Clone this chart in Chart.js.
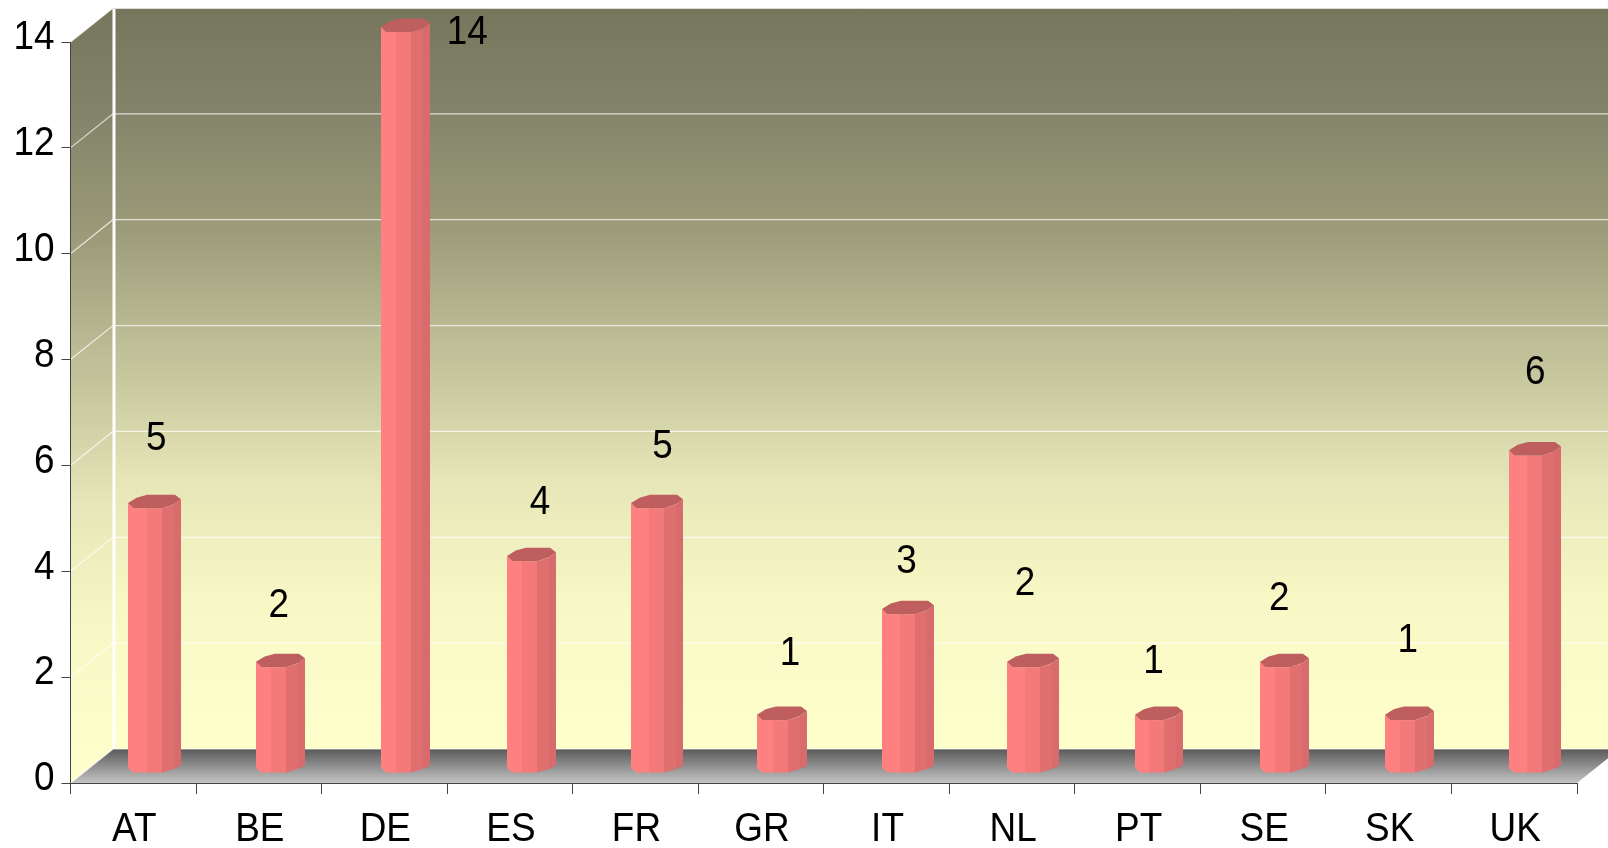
<!DOCTYPE html>
<html lang="en">
<head>
  <meta charset="UTF-8">
  <title>Count by country</title>
  <style>
    html, body { margin: 0; padding: 0; background: #fff; }
    canvas { display: block; }
  </style>
  <script src="https://cdn.jsdelivr.net/npm/chart.js"></script>
</head>
<body>
  <canvas id="chart" width="1608" height="848"></canvas>
  <script>
    const countries = ['AT', 'BE', 'DE', 'ES', 'FR', 'GR', 'IT', 'NL', 'PT', 'SE', 'SK', 'UK'];
    const counts = [5, 2, 14, 4, 5, 1, 3, 2, 1, 2, 1, 6];
    const yMax = 14;
    const yStep = 2;

    // hand placed value labels in the original, relative to the category centre / bar top
    const labelShiftX = [23, 20, 83, 30, 27, 29, 20, 13, 16, 16, 19, 21];
    const labelLift = [70, 61, -1, 59, 62, 66, 53, 83, 58, 68, 79, 83];
    // the source picture rounds its bars unevenly
    const barWidths = [53, 49, 49, 49, 52, 50, 52, 52, 48, 49, 49, 52];

    // depth of the fake 3d box and where a bar stands on the floor
    const depthX = 42.5;
    const depthY = 34;
    const barShiftX = 21.25;
    const barShiftY = -10;
    const fontFamily = '"Liberation Sans", Arial, sans-serif';
    const fontSize = 41;
    const textSqueeze = 0.9;

    const canvas = document.getElementById('chart');

    function poly(ctx, pts, fill) {
      ctx.beginPath();
      pts.forEach((p, i) => i ? ctx.lineTo(p[0], p[1]) : ctx.moveTo(p[0], p[1]));
      ctx.closePath();
      ctx.fillStyle = fill;
      ctx.fill();
    }

    class PrismBar extends Chart.BarElement {
      draw(ctx) {
        const { x, y, base } = this.getProps(['x', 'y', 'base']);
        const width = barWidths[Chart.getChart(canvas).getDatasetMeta(0).data.indexOf(this)];
        const l = Math.round(x - width / 2 + barShiftX);
        const t = y + barShiftY;
        const b = base + barShiftY;
        const r = l + width;
        const c3 = r - 7, c2 = c3 - 12, c1 = c2 - 15, a = l + 5.3;
        poly(ctx, [[l, t - 5.3], [a, t], [c1 + 0.5, t], [c1 + 0.5, b], [a, b], [l, b - 4.5]], '#ff8080');
        poly(ctx, [[c1, t], [c2 + 0.5, t], [c2 + 0.5, b], [c1, b]], '#f47a7a');
        poly(ctx, [[c2, t], [c3 + 0.5, t - 4], [c3 + 0.5, b - 3.7], [c2, b]], '#e07070');
        poly(ctx, [[c3, t - 4], [r, t - 9], [r, b - 6.7], [c3, b - 3.7]], '#d86b6b');
        poly(ctx, [[l, t - 5.3], [l + 8.7, t - 10.7], [l + 19, t - 13.5], [r - 6, t - 13.5],
          [r, t - 9], [c3, t - 4], [c2, t], [a, t]], '#be5e5e');
      }
    }
    PrismBar.id = 'prismBar';
    PrismBar.defaults = Chart.BarElement.defaults;

    class PrismController extends Chart.BarController {}
    PrismController.id = 'prismBar';
    PrismController.defaults = Object.assign({}, Chart.BarController.defaults, { dataElementType: 'prismBar' });
    PrismController.overrides = Chart.BarController.overrides;
    Chart.register(PrismBar, PrismController);

    function wallGradient(ctx, y0, y1) {
      const g = ctx.createLinearGradient(0, y0, 0, y1);
      g.addColorStop(0, '#76765c');
      g.addColorStop(0.135, '#83836a');
      g.addColorStop(0.3, '#9c9c7a');
      g.addColorStop(0.45, '#bdbd96');
      g.addColorStop(0.64, '#e6e6b8');
      g.addColorStop(0.8, '#f8f8c6');
      g.addColorStop(1, '#ffffcc');
      return g;
    }

    const box3d = {
      id: 'box3d',
      beforeDraw(chart) {
        const { ctx, chartArea: area, scales } = chart;
        const { left, right, top, bottom } = area;
        const wallX = left + depthX;
        const floorY = bottom - depthY;
        const wallTop = top - depthY;
        const W = chart.width;

        poly(ctx, [[wallX, wallTop], [W, wallTop], [W, floorY], [wallX, floorY]], wallGradient(ctx, wallTop, floorY));
        poly(ctx, [[left, top], [wallX, wallTop], [wallX, floorY], [left, bottom]], wallGradient(ctx, wallTop, bottom));

        const floor = ctx.createLinearGradient(0, floorY, 0, bottom);
        floor.addColorStop(0, '#5a5a5a');
        floor.addColorStop(1, '#c4c4c4');
        poly(ctx, [[left, bottom], [wallX, floorY], [right + depthX, floorY], [right, bottom]], floor);

        // grid lines run along the side wall and then the back wall
        ctx.save();
        ctx.lineWidth = 1.2;
        ctx.strokeStyle = 'rgba(255,255,255,0.72)';
        scales.y.ticks.forEach(tick => {
          const y = scales.y.getPixelForValue(tick.value);
          ctx.beginPath();
          ctx.moveTo(left, y);
          ctx.lineTo(wallX, y - depthY);
          ctx.lineTo(W, y - depthY);
          ctx.stroke();
        });
        ctx.strokeStyle = '#fff';
        ctx.lineWidth = 3;
        ctx.beginPath();
        ctx.moveTo(wallX + 1, wallTop);
        ctx.lineTo(wallX + 1, floorY);
        ctx.stroke();
        ctx.lineWidth = 1;
        ctx.strokeStyle = '#ddd';
        ctx.beginPath();
        ctx.moveTo(wallX, wallTop + 0.5);
        ctx.lineTo(W, wallTop + 0.5);
        ctx.stroke();
        ctx.restore();
      },
      afterDatasetsDraw(chart) {
        const { ctx, scales } = chart;
        ctx.save();
        ctx.font = fontSize + 'px ' + fontFamily;
        ctx.fillStyle = '#000';
        ctx.textAlign = 'center';
        ctx.textBaseline = 'middle';
        counts.forEach((v, i) => {
          const x = scales.x.getPixelForValue(i) + labelShiftX[i];
          const y = scales.y.getPixelForValue(v) + barShiftY - labelLift[i];
          ctx.fillText(String(v), x, y);
        });
        ctx.restore();
      }
    };

    // the original type is a narrower helvetica, squeeze every label sideways around its anchor
    const ctx2d = canvas.getContext('2d');
    const plainFillText = ctx2d.fillText;
    ctx2d.fillText = function (text, x, y) {
      this.save();
      this.translate(x, y);
      this.scale(textSqueeze, 1);
      plainFillText.call(this, text, 0, 0);
      this.restore();
    };

    new Chart(canvas, {
      type: 'prismBar',
      data: {
        labels: countries,
        datasets: [{ data: counts, barThickness: 50, clip: false }]
      },
      options: {
        responsive: false,
        animation: false,
        layout: { padding: { top: 42, right: 31, left: 0, bottom: 0 } },
        plugins: { legend: { display: false }, tooltip: { enabled: false } },
        scales: {
          x: {
            type: 'category',
            offset: true,
            grid: { drawOnChartArea: false, color: '#444', tickLength: 11, offset: true },
            border: { color: '#444' },
            ticks: { color: '#000', font: { family: fontFamily, size: fontSize }, padding: 11, labelOffset: 1, maxRotation: 0, autoSkip: false },
            afterFit(s) { s.height = 65; }
          },
          y: {
            type: 'linear',
            min: 0,
            max: yMax,
            grid: { drawOnChartArea: false, color: '#444', tickLength: 9 },
            border: { color: '#444' },
            ticks: { color: '#000', stepSize: yStep, font: { family: fontFamily, size: fontSize }, padding: 7, labelOffset: -4 },
            afterFit(s) { s.width = 70.5; }
          }
        }
      },
      plugins: [box3d]
    });
  </script>
</body>
</html>
